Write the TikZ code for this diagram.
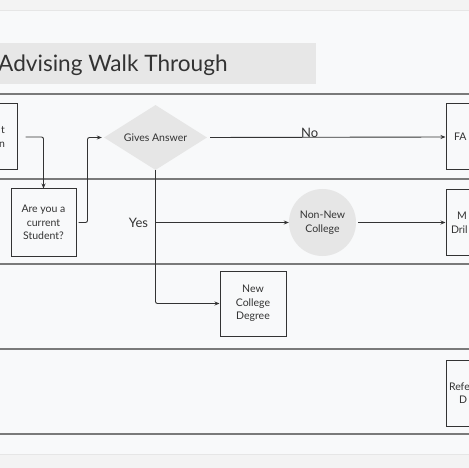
\documentclass[tikz,border=0pt]{standalone}
\usepackage{fontspec}
\setmainfont{Lato}
\usepackage{tikz}
\usetikzlibrary{shapes.geometric, arrows.meta, positioning}
\definecolor{pagebg}{HTML}{F8F9FA}
\definecolor{outerbg}{HTML}{F3F3F3}
\definecolor{rimline}{HTML}{E6E6E6}
\definecolor{laneline}{HTML}{7A7A7A}
\definecolor{shapegray}{HTML}{E6E6E6}
\definecolor{inkgray}{HTML}{333333}
\tikzset{
  procbox/.style={rectangle, draw=inkgray, line width=1pt, fill=pagebg,
                  minimum width=66pt, minimum height=66pt, align=center,
                  text=inkgray, inner sep=2pt,
                  font=\fontsize{10.5}{13.5}\selectfont},
  decision/.style={diamond, fill=shapegray, aspect=1.6, inner sep=0pt,
                   minimum width=103pt, minimum height=65pt, text=inkgray,
                   font=\fontsize{10.5}{13.5}\selectfont},
  terminal/.style={circle, fill=shapegray, minimum size=67pt, align=center,
                   inner sep=0pt, text=inkgray,
                   font=\fontsize{10.5}{13.5}\selectfont},
  arrow/.style={-{Stealth[length=5pt, width=4pt]}, line width=0.9pt,
                draw=inkgray, rounded corners=2pt},
  lane/.style={draw=laneline, line width=1.5pt},
  edgelabel/.style={font=\fontsize{13}{15}\selectfont, text=inkgray,
                    inner sep=0pt},
}

\begin{document}
\begin{tikzpicture}[x=1pt, y=-1pt]

  % canvas
  \useasboundingbox (0,0) rectangle (469,468);
  \clip (0,0) rectangle (469,468);
  \fill[outerbg] (0,0) rectangle (469,468);
  \fill[pagebg] (0,11) rectangle (469,454);
  \draw[rimline, line width=1.2pt] (0,10.5) -- (469,10.5);
  \draw[rimline, line width=1pt] (0,454.5) -- (469,454.5);

  % title
  \fill[shapegray!95!white] (0,43) rectangle (316,84);
  \node[anchor=base west, inner sep=0pt, text=inkgray,
        font=\fontsize{22.6}{26}\selectfont] (title) at (-2,72)
        {Advising Walk Through};

  % lanes
  \foreach \y in {94,179,264,349,434}
    \draw[lane] (0,\y) -- (469,\y);

  % nodes
  \node[procbox, text width=42pt, inner xsep=12pt, align=right]
        (question) at (-16,137) {t\\n};
  \node[procbox, minimum width=65pt, minimum height=67pt]
        (student) at (43.5,222.5) {Are you a\\current\\Student?};
  \node[decision] (answer) at (155.5,137.5) {Gives Answer};
  \node[procbox, text width=50pt, inner xsep=8pt, align=left]
        (faq) at (479,137) {FA};
  \node[terminal] (nonnew) at (322.5,222.5) {Non-New\\College};
  \node[procbox, text width=56pt, inner xsep=5pt, align=left]
        (drill) at (479,222.5) {\hspace{6pt}M\\Dril};
  \node[procbox, minimum height=65pt] (newdeg) at (253,303.5)
        {New\\College\\Degree};
  \node[procbox, text width=60pt, inner xsep=3pt, align=left]
        (refer) at (479,393) {Refe\\\hspace{10pt}D};

  \coordinate (fork) at (answer.south |- nonnew.west);

  % connectors
  \draw[arrow, shorten <=8pt] (question.east) -| (student.north);
  \draw[arrow, shorten <=2pt, shorten >=2pt]
    (student.east) -- ++(11,0) |- (answer.west);
  \draw[arrow, shorten <=3pt] (answer.east) -- (faq.west)
    node[edgelabel, pos=0.43, anchor=base] {No};
  \draw[arrow] (answer.south) |- (newdeg.west);
  \draw[arrow] (fork) -- (nonnew.west)
    node[edgelabel, at start, left=7pt] {Yes};
  \draw[arrow, shorten <=2pt] (nonnew.east) -- (drill.west);

\end{tikzpicture}
\end{document}
